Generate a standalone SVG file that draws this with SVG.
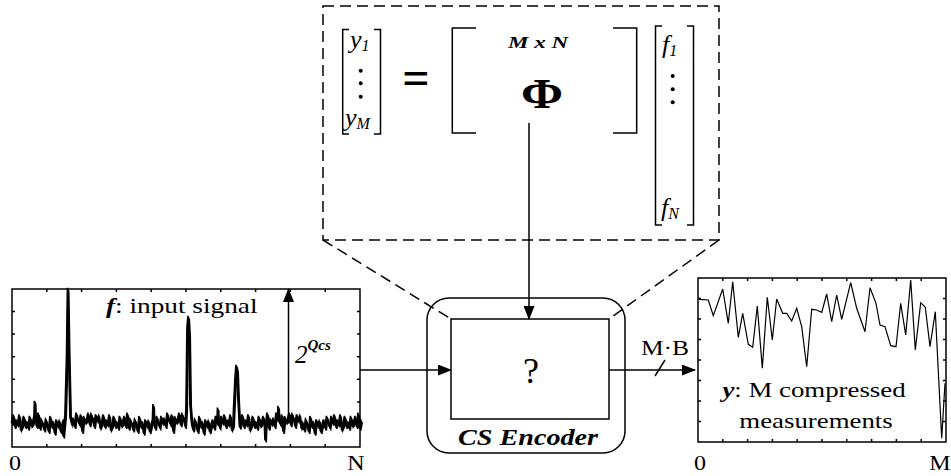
<svg xmlns="http://www.w3.org/2000/svg" width="951" height="476" viewBox="0 0 951 476">
<style>
text{font-family:"Liberation Serif","Times New Roman",serif;fill:#000}
.ln{fill:none;stroke:#000;stroke-width:1.5}
.thin{fill:none;stroke:#000;stroke-width:1.2}
.noise{fill:none;stroke:#000;stroke-width:1.6}
.dash{fill:none;stroke:#000;stroke-width:1.5;stroke-dasharray:11 6}
.it{font-style:italic}
.bi{font-style:italic;font-weight:bold}
.b{font-weight:bold}
</style>
<defs>
<marker id="ah" markerWidth="14" markerHeight="11" refX="13" refY="5.5" orient="auto" markerUnits="userSpaceOnUse"><path d="M0,0 L14,5.5 L0,11 z" fill="#000"/></marker>
</defs>
<rect width="951" height="476" fill="#fff"/>

<g id="matrix-eq">
<rect class="dash" x="323" y="6" width="396" height="234"/>
<path class="ln" d="M349,29.5 H342.7 V134 H349 M374,29.5 H380.5 V134 H374"/>
<text x="350" y="48" font-size="26" class="it">y<tspan font-size="16" dy="3">1</tspan></text>
<circle cx="360.7" cy="70.7" r="2"/><circle cx="360.7" cy="83.3" r="2"/><circle cx="360.7" cy="96.7" r="2"/>
<text x="345" y="126" font-size="26" class="it">y<tspan font-size="16" dy="3">M</tspan></text>
<text x="416" y="94" font-size="48" class="b" text-anchor="middle">=</text>
<path class="ln" d="M476,28 H452.3 V133 H476 M613,28 H636.7 V133 H613"/>
<text x="538" y="47.7" font-size="16" class="bi" text-anchor="middle" textLength="60" lengthAdjust="spacingAndGlyphs">M x N</text>
<text x="542" y="108" font-size="42" class="b" text-anchor="middle" textLength="42" lengthAdjust="spacingAndGlyphs">Φ</text>
<path class="ln" d="M662,26 H655.5 V225 H662 M687,26 H693.5 V225 H687"/>
<text x="662" y="53" font-size="26" class="it">f<tspan font-size="16" dy="3">1</tspan></text>
<circle cx="672.7" cy="76" r="2"/><circle cx="672.7" cy="89.3" r="2"/><circle cx="672.7" cy="102.3" r="2"/>
<text x="661" y="216" font-size="26" class="it">f<tspan font-size="16" dy="3">N</tspan></text>
</g>

<g id="input-plot">
<rect class="ln" x="12" y="289" width="348" height="158"/>
<path class="ln" d="M12,311.6h3M12,334.1h3M12,356.7h3M12,379.3h3M12,401.9h3M12,424.4h3M360,311.6h-3M360,334.1h-3M360,356.7h-3M360,379.3h-3M360,401.9h-3M360,424.4h-3M46.8,447v-3M81.6,447v-3M116.4,447v-3M151.2,447v-3M186,447v-3M220.8,447v-3M255.6,447v-3M290.4,447v-3M325.2,447v-3M46.8,289v3M81.6,289v3M116.4,289v3M151.2,289v3M186,289v3M220.8,289v3M255.6,289v3M290.4,289v3M325.2,289v3"/>
<path id="noise" class="noise" vector-effect="non-scaling-stroke" transform="matrix(1,0,0,1.7,0,-297)" d="M12,424.1 l1.5,-5 1.5,7 1.5,-4 1.5,3 1.5,-6 1.5,8 1.5,-2 1.5,-5 1.5,6 1.5,-3 1.5,4 1.5,-7 1.5,5 1.5,-1 1.5,-4 0.5,-9 0.5,9 1.5,6 1.5,-8 1.5,9 1.5,-5 1.5,2 1.5,4 1.5,-6 1.5,2 1.5,5 1.5,-9 1.5,6 1.5,-3 1.5,7 1.5,-8 1.5,3 1.5,-2 1.5,6 1.5,-4 1.5,-3 L63.5,431.8 L65.5,419.4 L67,386.5 L68,344.7 L69,380.6 L70.5,420.6 L72,424.1 l1.5,-3 1.5,5 1.5,-8 1.5,4 1.5,2 1.5,-5 1.5,10 1.5,-9 1.5,3 1.5,-1 1.5,-4 1.5,7 1.5,-6 1.5,2 1.5,5 1.5,-7 1.5,3 1.5,-2 1.5,6 1.5,-2 1.5,-5 1.5,7 1.5,-4 1.5,3 1.5,-6 1.5,8 1.5,-2 1.5,-5 1.5,6 1.5,-3 1.5,4 1.5,-7 1.5,5 1.5,-1 1.5,-4 1.5,6 1.5,-8 1.5,9 1.5,-5 1.5,2 1.5,4 1.5,-6 1.5,2 1.5,5 1.5,-9 1.5,6 1.5,-3 1.5,7 1.5,-8 1.5,3 1.5,-2 1.5,6 1.5,-4 1.5,-3 0.5,-9 0.5,9 1.5,5 1.5,-7 1.5,4 1.5,2 1.5,-6 1.5,4 1.5,-3 1.5,5 1.5,-8 1.5,4 1.5,2 1.5,-5 1.5,10 1.5,-9 1.5,3 1.5,-1 1.5,-4 1.5,7 1.5,-6 1.5,2 1.5,5 L186.5,415.9 L187.5,368.8 L188.5,361.2 L189.5,371.8 L190.5,412.9 L192,424.1 l1.5,4 1.5,-6 1.5,2 1.5,5 1.5,-9 1.5,6 1.5,-3 1.5,7 1.5,-8 1.5,3 1.5,-2 1.5,6 1.5,-4 1.5,-3 1.5,5 1.5,-7 1.5,4 0.5,-9 0.5,9 1.5,2 1.5,-6 1.5,4 1.5,-5 1.5,7 1.5,-4 1.5,3 1.5,-6 1.5,8 1.5,-2 L234,417.1 L235.5,398.2 L236.5,390 L237.5,393.5 L238.5,410 L240,426.5 L241,424.1 l1.5,-5 1.5,7 1.5,-4 1.5,3 1.5,-6 1.5,8 1.5,-2 1.5,-5 1.5,6 1.5,-3 1.5,4 1.5,-7 1.5,5 1.5,-1 1.5,-4 1.5,6 0.5,8 0.5,-8 1.5,-8 1.5,9 1.5,-5 1.5,2 1.5,-3 1.5,5 1.5,-8 1.5,4 0.5,-8 0.5,8 1.5,2 1.5,-5 1.5,10 1.5,-9 1.5,3 1.5,-1 1.5,-4 1.5,7 1.5,-6 1.5,2 1.5,5 1.5,-7 1.5,3 1.5,-2 1.5,6 1.5,-2 1.5,4 1.5,-6 1.5,2 1.5,5 1.5,-9 1.5,6 1.5,-3 1.5,7 1.5,-8 1.5,3 1.5,-2 1.5,6 1.5,-4 1.5,-3 1.5,5 1.5,-7 1.5,4 1.5,2 1.5,-6 1.5,4 1.5,-5 1.5,7 1.5,-4 1.5,3 1.5,-6 1.5,8 1.5,-2 1.5,-5 1.5,6 1.5,-3 1.5,4 1.5,-7 1.5,5 1.5,-1 1.5,-4 1.5,6 1.5,-8 1.5,9 1.5,-5 L360,424.1"/>
<use href="#noise" transform="translate(0.75,1.5)"/>
<use href="#noise" transform="translate(-0.6,-1.2)"/>
<text transform="translate(106,313) scale(1.24,1)" font-size="22"><tspan class="bi">f</tspan>: input signal</text>
<text x="295" y="363" font-size="25" class="it">2<tspan class="bi" font-size="15" dy="-13">Qcs</tspan></text>
<text transform="translate(15,470) scale(1.2,1)" font-size="20" text-anchor="middle">0</text>
<text transform="translate(356,470) scale(1.2,1)" font-size="20" text-anchor="middle">N</text>
</g>

<g id="encoder">
<rect class="ln" x="427" y="298" width="198" height="155" rx="22"/>
<rect class="ln" x="451" y="319" width="158" height="100"/>
<text x="531" y="383" font-size="36" text-anchor="middle">?</text>
<text x="528" y="445" font-size="24" class="bi" text-anchor="middle" textLength="140" lengthAdjust="spacingAndGlyphs">CS Encoder</text>
</g>

<g id="output-plot">
<rect class="ln" x="698" y="278" width="248" height="164"/>
<path class="ln" d="M698,298.5h3M698,319h3M698,339.5h3M698,360h3M698,380.5h3M698,401h3M698,421.5h3M946,298.5h-3M946,319h-3M946,339.5h-3M946,360h-3M946,380.5h-3M946,401h-3M946,421.5h-3M722.8,442v-3M747.6,442v-3M772.4,442v-3M797.2,442v-3M822,442v-3M846.8,442v-3M871.6,442v-3M896.4,442v-3M921.2,442v-3M722.8,278v3M747.6,278v3M772.4,278v3M797.2,278v3M822,278v3M846.8,278v3M871.6,278v3M896.4,278v3M921.2,278v3"/>
<polyline class="thin" points="699,299.3 708.3,300 713.3,315.7 722.7,289 728.3,323.3 732.7,281.7 738.3,337.3 742.7,313.3 748.3,344.3 752.7,347.3 757.3,306 762.3,368.3 767.3,297.3 772.3,340 776.7,299 782.7,313.3 786.7,313.3 791.7,321 796.7,308.3 801.7,326.7 806.7,366.7 811.7,309.3 816.7,310 821.7,312.3 826.7,294 831.7,321.7 836.7,295 841.7,319.3 850.7,282.7 856.7,308.3 865,331.7 870,287.7 876,303.3 880,325 885,326.7 890.7,345.7 896,346.7 900.7,303.3 905.7,335 910.7,280 915.3,350 920.7,302.7 925.3,307.3 930,346.7 935.3,311.7 941.7,438.3 945,383.3"/>
<text transform="translate(814,397) scale(1.22,1)" font-size="22" text-anchor="middle"><tspan class="bi">y</tspan>: M compressed</text>
<text transform="translate(816,428) scale(1.22,1)" font-size="22" text-anchor="middle">measurements</text>
<text transform="translate(700,470) scale(1.2,1)" font-size="20" text-anchor="middle">0</text>
<text transform="translate(940,470) scale(1.2,1)" font-size="20" text-anchor="middle">M</text>
</g>

<g id="connectors">
<line class="dash" x1="323" y1="240" x2="451" y2="319"/>
<line class="dash" x1="719" y1="240" x2="609" y2="319"/>
<line class="ln" x1="529" y1="123" x2="529" y2="319" marker-end="url(#ah)"/>
<line class="ln" x1="288.5" y1="423" x2="288.5" y2="289" marker-end="url(#ah)"/>
<line class="ln" x1="360" y1="370" x2="451" y2="370" marker-end="url(#ah)"/>
<line class="ln" x1="609" y1="370" x2="695" y2="370" marker-end="url(#ah)"/>
<line class="ln" x1="655" y1="376" x2="665" y2="360"/>
<text transform="translate(665,355) scale(1.16,1)" font-size="22" text-anchor="middle">M·B</text>
</g>
</svg>
